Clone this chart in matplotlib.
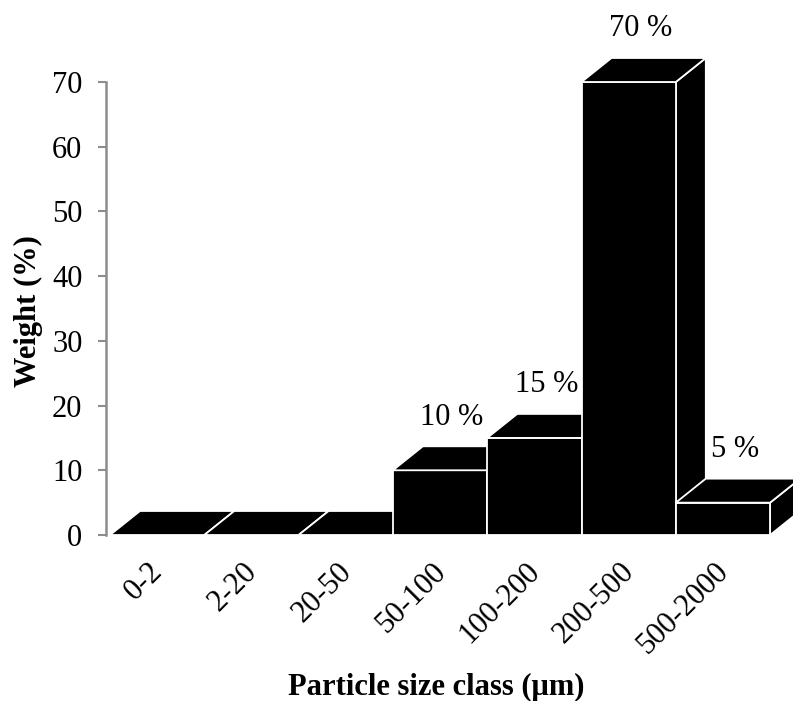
import matplotlib
matplotlib.use('Agg')
import matplotlib.pyplot as plt
from matplotlib.patches import Polygon, Rectangle
from matplotlib.transforms import ScaledTranslation

# Particle size distribution
categories = ['0-2', '2-20', '20-50', '50-100', '100-200', '200-500', '500-2000']
weights = [0, 0, 0, 10, 15, 70, 5]
bar_labels = ['', '', '', '10 %', '15 %', '70 %', '5 %']
y_ticks = [0, 10, 20, 30, 40, 50, 60, 70]

plt.rcParams['font.family'] = ['Liberation Serif', 'DejaVu Serif']

W, H = 793, 701
fig = plt.figure(figsize=(W / 100, H / 100), dpi=100)

# axes placed so the y axis sits at x=106px, 0 at y=535px and 70 at y=82px
left_px, bottom_px, top_px = 106, 535, 82
ax = fig.add_axes([left_px / W, 1 - bottom_px / H, (W - left_px) / W, (bottom_px - top_px) / H])

bar_px = 94.3          # width of one bar in pixels
x0 = -0.5 - 4 / bar_px  # small gap between axis and first bar
ax.set_xlim(x0, x0 + (W - left_px) / bar_px)
ax.set_ylim(0, 70)

# depth of the fake 3D boxes (pixels -> data units)
dx = 30 / bar_px
dy = 24 * 70 / (bottom_px - top_px)

face = 'black'
edge = 'white'
lw = 1.3
for i, v in enumerate(weights):
    l, r = i - 0.5, i + 0.5
    front = Rectangle((l, 0), 1, v, facecolor=face, edgecolor=edge, lw=lw, clip_on=False)
    top = Polygon([(l, v), (l + dx, v + dy), (r + dx, v + dy), (r, v)], closed=True,
                  facecolor=face, edgecolor=edge, lw=lw, clip_on=False)
    side = Polygon([(r, 0), (r + dx, dy), (r + dx, v + dy), (r, v)], closed=True,
                   facecolor=face, edgecolor=edge, lw=lw, clip_on=False)
    ax.add_patch(side)
    ax.add_patch(front)
    ax.add_patch(top)
    if bar_labels[i]:
        ax.annotate(bar_labels[i], (i + dx * 0.4, v + dy), xytext=(0, 21), textcoords='offset points',
                    ha='center', va='center', fontsize=22, annotation_clip=False)

ax.set_xticks(range(len(categories)))
ax.set_xticklabels(categories, rotation=45, ha='right', va='top', rotation_mode='anchor', fontsize=22)
ax.tick_params(axis='x', length=0, pad=16)
shift = ScaledTranslation(-9 / 100, 0, fig.dpi_scale_trans)
for lab in ax.get_xticklabels():
    lab.set_transform(lab.get_transform() + shift)

ax.set_yticks(y_ticks)
ax.tick_params(axis='y', direction='out', length=6, width=1.5, color='#8c8c8c', labelsize=22, pad=11)

for s in ['top', 'right', 'bottom']:
    ax.spines[s].set_visible(False)
ax.spines['left'].set_color('#8c8c8c')
ax.spines['left'].set_linewidth(1.8)

fig.text(28 / W, 1 - 311 / H, 'Weight (%)', rotation=90, ha='center', va='center',
         fontsize=22, fontweight='bold')
fig.text(436 / W, 1 - 687 / H, 'Particle size class (\u03bcm)', ha='center', va='center',
         fontsize=22, fontweight='bold')

fig.savefig('out.png', dpi=100)
